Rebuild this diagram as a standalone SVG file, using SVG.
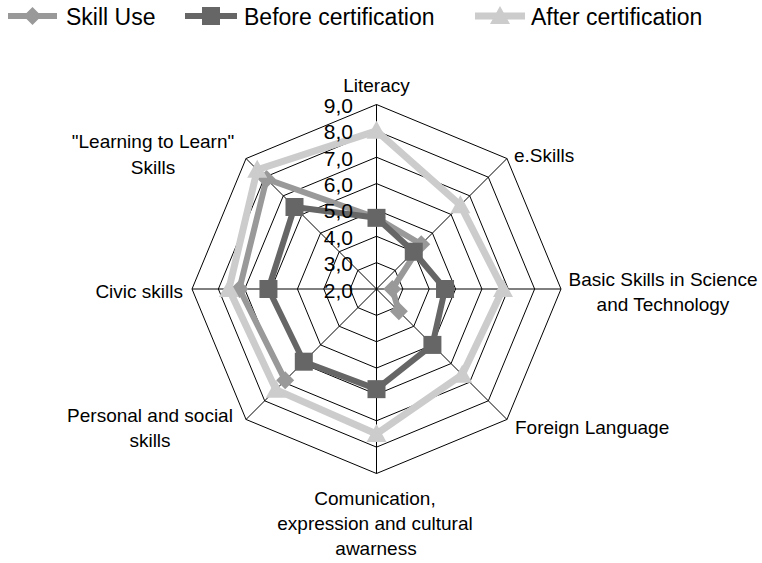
<svg xmlns="http://www.w3.org/2000/svg" width="762" height="563" viewBox="0 0 762 563">
<style>
text{font-family:"Liberation Sans",Arial,sans-serif;fill:#000}
.leg{font-size:23px}
.cat{font-size:19px}
.tick{font-size:21px;text-anchor:end}
.ring{fill:none;stroke:#000;stroke-width:1}
.spoke{stroke:#000;stroke-width:1}
.s1{fill:none;stroke:#999;stroke-width:6;stroke-linejoin:round}
.s2{fill:none;stroke:#666;stroke-width:6;stroke-linejoin:round}
.s3{fill:none;stroke:#ccc;stroke-width:7;stroke-linejoin:round}
.m1{fill:#999}
.m2{fill:#666}
.m3{fill:#ccc}
</style>
<defs>
<path id="dia" d="M0,-9 L9,0 L0,9 L-9,0Z"/>
<rect id="sq" x="-9" y="-9" width="18" height="18"/>
<path id="tri" d="M0,-10 L10,8 L-10,8Z"/>
</defs>
<rect width="762" height="563" fill="#fff"/>

<g id="legend">
<line x1="8" y1="16" x2="57" y2="16" class="s1"/>
<use href="#dia" x="32.5" y="16" class="m1"/>
<text class="leg" x="66" y="25">Skill Use</text>
<line x1="185" y1="16" x2="237" y2="16" class="s2"/>
<use href="#sq" x="211" y="16" class="m2"/>
<text class="leg" x="244" y="25">Before certification</text>
<line x1="475" y1="16" x2="525" y2="16" class="s3"/>
<use href="#tri" x="500" y="16" class="m3"/>
<text class="leg" x="531" y="25">After certification</text>
</g>

<g id="grid">
<polygon class="ring" points="376.5,262.64 395.14,270.36 402.86,289 395.14,307.64 376.5,315.36 357.86,307.64 350.14,289 357.86,270.36"/>
<polygon class="ring" points="376.5,236.29 413.77,251.73 429.21,289 413.77,326.27 376.5,341.71 339.23,326.27 323.79,289 339.23,251.73"/>
<polygon class="ring" points="376.5,209.93 432.41,233.09 455.57,289 432.41,344.91 376.5,368.07 320.59,344.91 297.43,289 320.59,233.09"/>
<polygon class="ring" points="376.5,183.57 451.05,214.45 481.93,289 451.05,363.55 376.5,394.43 301.95,363.55 271.07,289 301.95,214.45"/>
<polygon class="ring" points="376.5,157.21 469.69,195.81 508.29,289 469.69,382.19 376.5,420.79 283.31,382.19 244.71,289 283.31,195.81"/>
<polygon class="ring" points="376.5,130.86 488.32,177.18 534.64,289 488.32,400.82 376.5,447.14 264.68,400.82 218.36,289 264.68,177.18"/>
<polygon class="ring" points="376.5,104.5 506.96,158.54 561,289 506.96,419.46 376.5,473.5 246.04,419.46 192,289 246.04,158.54"/>
<line class="spoke" x1="376.5" y1="289" x2="376.5" y2="104.5"/>
<line class="spoke" x1="376.5" y1="289" x2="506.96" y2="158.54"/>
<line class="spoke" x1="376.5" y1="289" x2="561" y2="289"/>
<line class="spoke" x1="376.5" y1="289" x2="506.96" y2="419.46"/>
<line class="spoke" x1="376.5" y1="289" x2="376.5" y2="473.5"/>
<line class="spoke" x1="376.5" y1="289" x2="246.04" y2="419.46"/>
<line class="spoke" x1="376.5" y1="289" x2="192" y2="289"/>
<line class="spoke" x1="376.5" y1="289" x2="246.04" y2="158.54"/>
</g>

<g id="connectors">
<g id="series-skill-use">
<polyline class="s1" points="285.18,380.32 239.44,289 266.54,179.04 376.5,217.84 421.23,244.27 392.31,289 398.86,311.36"/>
<use href="#dia" x="376.5" y="217.84" class="m1"/>
<use href="#dia" x="421.23" y="244.27" class="m1"/>
<use href="#dia" x="392.31" y="289" class="m1"/>
<use href="#dia" x="398.86" y="311.36" class="m1"/>
<use href="#dia" x="285.18" y="380.32" class="m1"/>
<use href="#dia" x="239.44" y="289" class="m1"/>
<use href="#dia" x="266.54" y="179.04" class="m1"/>
</g>
<g id="series-before">
<polygon class="s2" points="376.5,217.84 413.77,251.73 445.03,289 432.41,344.91 376.5,389.16 303.81,361.69 268.44,289 294.5,207"/>
<use href="#sq" x="376.5" y="217.84" class="m2"/>
<use href="#sq" x="413.77" y="251.73" class="m2"/>
<use href="#sq" x="445.03" y="289" class="m2"/>
<use href="#sq" x="432.41" y="344.91" class="m2"/>
<use href="#sq" x="376.5" y="389.16" class="m2"/>
<use href="#sq" x="303.81" y="361.69" class="m2"/>
<use href="#sq" x="268.44" y="289" class="m2"/>
<use href="#sq" x="294.5" y="207" class="m2"/>
</g>
<g id="series-after">
<polygon class="s3" points="376.5,130.86 460.37,205.13 503,289 462.23,374.73 376.5,433.96 275.86,389.64 228.9,289 257.22,169.72"/>
<use href="#tri" x="376.5" y="130.86" class="m3"/>
<use href="#tri" x="460.37" y="205.13" class="m3"/>
<use href="#tri" x="503" y="289" class="m3"/>
<use href="#tri" x="462.23" y="374.73" class="m3"/>
<use href="#tri" x="376.5" y="433.96" class="m3"/>
<use href="#tri" x="275.86" y="389.64" class="m3"/>
<use href="#tri" x="228.9" y="289" class="m3"/>
<use href="#tri" x="257.22" y="169.72" class="m3"/>
</g>
</g>

<g id="ticks">
<text class="tick" x="353" y="113">9,0</text>
<text class="tick" x="353" y="139.4">8,0</text>
<text class="tick" x="353" y="165.7">7,0</text>
<text class="tick" x="353" y="192.1">6,0</text>
<text class="tick" x="353" y="218.4">5,0</text>
<text class="tick" x="353" y="244.8">4,0</text>
<text class="tick" x="353" y="271.2">3,0</text>
<text class="tick" x="353" y="297.5">2,0</text>
</g>

<g id="node-literacy"><text class="cat" x="376.5" y="92" text-anchor="middle">Literacy</text></g>
<g id="node-eskills"><text class="cat" x="514" y="162">e.Skills</text></g>
<g id="node-basic"><text class="cat" x="663" y="286" text-anchor="middle">Basic Skills in Science</text><text class="cat" x="663" y="311" text-anchor="middle">and Technology</text></g>
<g id="node-foreign"><text class="cat" x="515" y="434">Foreign Language</text></g>
<g id="node-communication"><text class="cat" x="375" y="505" text-anchor="middle">Comunication,</text><text class="cat" x="375" y="530" text-anchor="middle">expression and cultural</text><text class="cat" x="376" y="555" text-anchor="middle">awarness</text></g>
<g id="node-personal"><text class="cat" x="150" y="422" text-anchor="middle">Personal and social</text><text class="cat" x="150" y="447" text-anchor="middle">skills</text></g>
<g id="node-civic"><text class="cat" x="183" y="298" text-anchor="end">Civic skills</text></g>
<g id="node-learning"><text class="cat" x="153" y="148" text-anchor="middle">"Learning to Learn"</text><text class="cat" x="153" y="174" text-anchor="middle">Skills</text></g>
</svg>
